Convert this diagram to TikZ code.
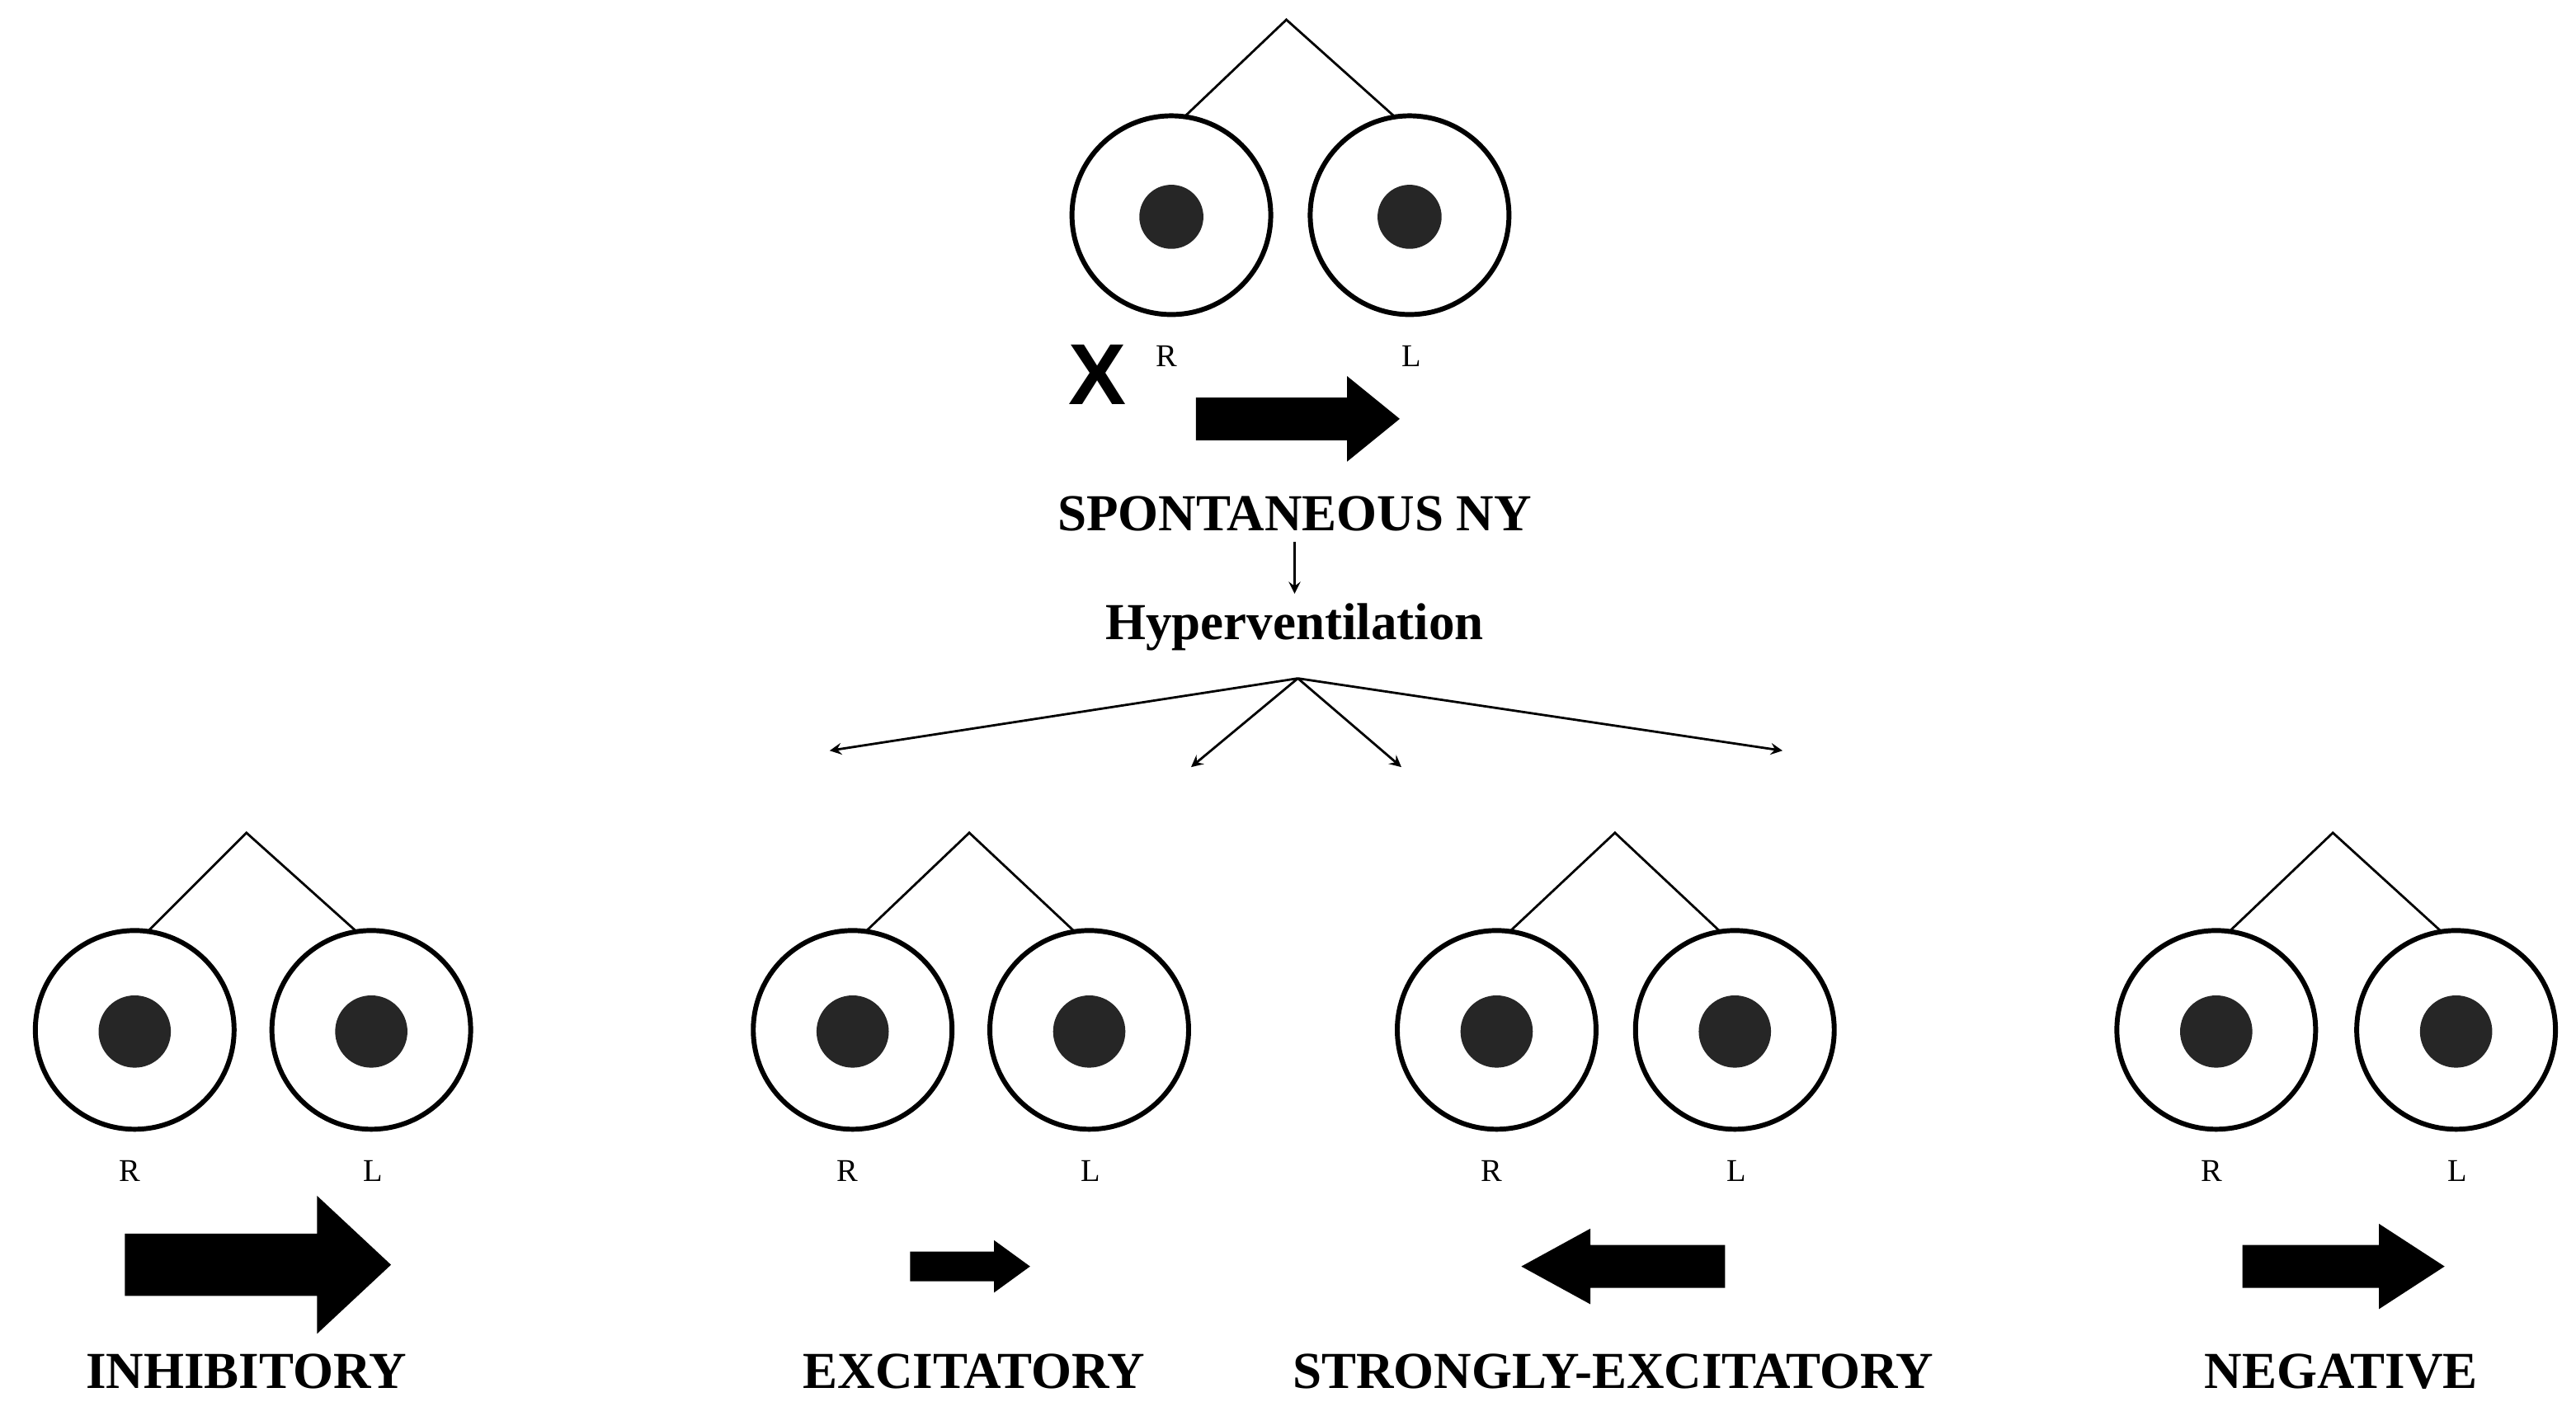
\documentclass[tikz,border=0pt]{standalone}
\usepackage{fontspec}
\setmainfont{Liberation Serif}
\newfontfamily\sansx{Liberation Sans}
\usetikzlibrary{calc}
\begin{document}
\begin{tikzpicture}[x=0.02cm,y=-0.02cm,
  eye/.style={circle,draw,line width=1.7pt,minimum size=2.42cm,inner sep=0pt},
  pupil/.style={circle,fill=black!85,inner sep=0pt},
  lab/.style={font=\bfseries\fontsize{18}{18}\selectfont},
  rl/.style={font=\fontsize{11}{11}\selectfont},
  thin/.style={line width=0.8pt}]
\useasboundingbox (0,0) rectangle (1568,862);
\newcommand{\eyes}[7]{% name, x1, x2, y, apex x, apex y, pupil size
  \node[eye] (#1a) at (#2,#4) {};
  \node[eye] (#1b) at (#3,#4) {};
  \node[pupil,minimum size=#7] at (#2,#4+1) {};
  \node[pupil,minimum size=#7] at (#3,#4+1) {};
  \coordinate (#1t) at (#5,#6);
  \draw[thin] ($(#1a.center)+(7,-59)$) -- (#1t) -- ($(#1b.center)+(-8,-59)$);
  \node[rl] at (#2-3,#4+86) {R};
  \node[rl] at (#3+1,#4+86) {L};}
\newcommand{\barrow}[6]{% x1,x2(tip),y,half body,half head,head start
  \fill (#1,#3-#4) -- (#6,#3-#4) -- (#6,#3-#5) -- (#2,#3) -- (#6,#3+#5) -- (#6,#3+#4) -- (#1,#3+#4) -- cycle;}
\eyes{t}{713}{858}{131}{783}{12}{0.78cm}
\node[font=\sansx\bfseries\fontsize{30}{30}\selectfont] at (668,228) {X};
\barrow{728}{852}{255}{13}{26}{820}
\node[lab] (sp) at (788,313) {SPONTANEOUS NY};
\node[lab] (hv) at (788,382) {Hyperventilation};
\draw[thin,-stealth] (sp.south) -- (hv.north);
\coordinate (h) at (790,413);
\coordinate (e1) at (505,457);
\coordinate (e2) at (725,467);
\coordinate (e3) at (853,467);
\coordinate (e4) at (1085,457);
\foreach \e in {e1,e2,e3,e4} \draw[thin,-stealth] (h) -- (\e);
\eyes{a}{82}{226}{627}{150}{507}{0.88cm}
\eyes{b}{519}{663}{627}{590}{507}{0.88cm}
\eyes{c}{911}{1056}{627}{983}{507}{0.88cm}
\eyes{d}{1349}{1495}{627}{1420}{507}{0.88cm}
\barrow{76}{238}{770}{19}{42}{193}
\barrow{554}{627}{771}{9}{16}{605}
\barrow{1050}{926}{771}{13}{23}{968}
\barrow{1365}{1488}{771}{13}{26}{1448}
\node[lab] at (150,835) {INHIBITORY};
\node[lab] at (593,835) {EXCITATORY};
\node[lab] at (982,835) {STRONGLY-EXCITATORY};
\node[lab] at (1425,835) {NEGATIVE};
\end{tikzpicture}
\end{document}
